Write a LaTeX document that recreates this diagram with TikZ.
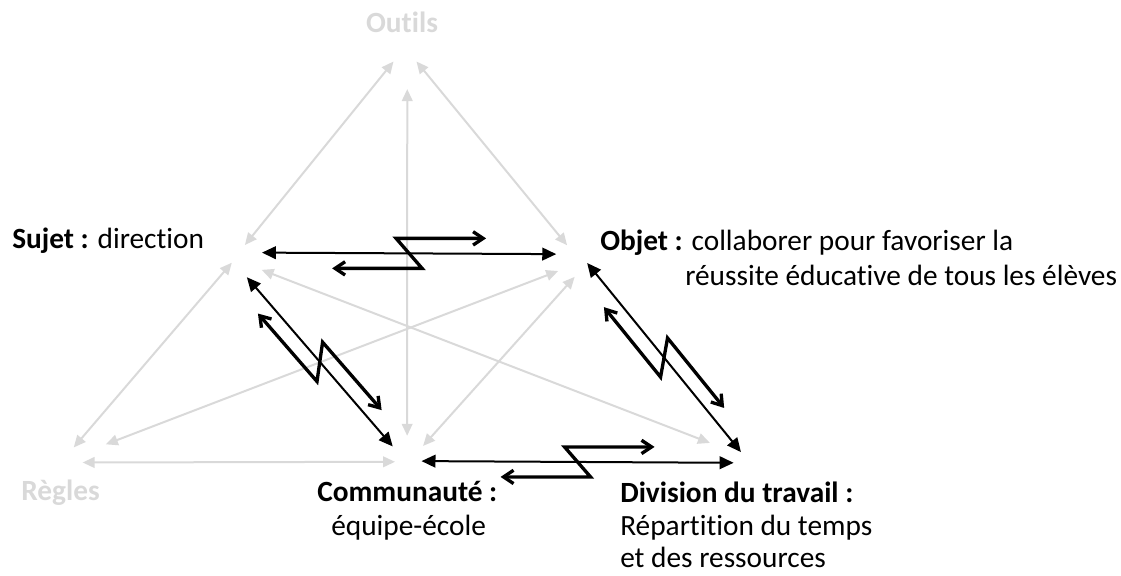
\documentclass[tikz,border=0pt]{standalone}
\usepackage{fontspec}
\setmainfont{Carlito}[Ligatures={NoCommon,NoContextual}]
\usetikzlibrary{arrows.meta}

\definecolor{lightgrey}{RGB}{217,217,217}

\tikzset{
    corner/.style={circle, inner sep=0pt, minimum size=24pt},
    faint/.style={lightgrey, line width=1.5pt, >={Triangle[length=9pt,width=8pt]}, <->},
    link/.style={black, line width=1.5pt, >={Triangle[length=10.5pt,width=9.5pt]}, <->},
    clash/.style={black, line width=2.5pt, >={Straight Barb[length=7.5pt,width=10pt]}, <->},
    txt/.style={anchor=base west, inner sep=0pt, font=\fontsize{22}{24.75}\selectfont},
    greytxt/.style={txt, text=lightgrey, font=\fontsize{22}{24.75}\selectfont\bfseries},
    zig/.pic={\draw[clash] (-77,15) -- (13,15) -- (-13,-15) -- (77,-15);}
}

\begin{document}
\begin{tikzpicture}[x=0.75pt, y=-0.75pt]
    \useasboundingbox (0,0) rectangle (1121,575);

    \node[corner] (outils) at (405,73) {};
    \node[corner] (sujet) at (248,261) {};
    \node[corner] (objet) at (571,261) {};
    \node[corner] (regles) at (90,448) {};
    \node[corner] (commu) at (408,452) {};
    \node[corner] (divis) at (725,449) {};

    \node[greytxt, anchor=base] (outilsLbl) at (402,32) {Outils};
    \node[greytxt, anchor=base east] (reglesLbl) at (100,500) {Règles};
    \node[txt] (sujetLbl) at (12,248) {\textbf{Sujet :} direction};
    \node[txt] (objetLbl) at (600,250) {\textbf{Objet :} collaborer pour favoriser la};
    \node[txt] (objetLbl2) at (685,285) {réussite éducative de tous les élèves};
    \node[txt] (commuLbl) at (317,501) {\textbf{Communauté :}};
    \node[txt] (commuLbl2) at (331,535) {équipe-école};
    \node[txt] (divisLbl) at (620,502) {\textbf{Division du travail :}};
    \node[txt] (divisLbl2) at (620,535) {Répartition du temps};
    \node[txt] (divisLbl3) at (620,567) {et des ressources};

    \draw[faint] (outils.135) -- (sujet.101);
    \draw[faint] (outils.45) -- (objet.104);
    \draw[faint] (outils.278) -- (commu.93);
    \draw[faint] (sujet.186) -- (regles.178);
    \draw[faint] (sujet.327) -- (divis.158);
    \draw[faint] (objet.218) -- (regles.13);
    \draw[faint] (objet.283) -- (commu.22);
    \draw[faint] (regles.243) -- (commu.217);

    \draw[link] (sujet.31) -- coordinate[midway] (zigSO) (objet.155);
    \draw[link] (sujet.266) -- coordinate[midway] (zigSC) (commu.160);
    \draw[link] (objet.353) -- coordinate[midway] (zigOD) (divis.349);
    \draw[link] (commu.326) -- coordinate[midway] (zigCD) (divis.302);

    \pic at (zigSO) {zig};
    \pic[rotate=-49] at (zigSC) {zig};
    \pic[rotate=-51] at (zigOD) {zig};
    \pic at (zigCD) {zig};
\end{tikzpicture}
\end{document}
